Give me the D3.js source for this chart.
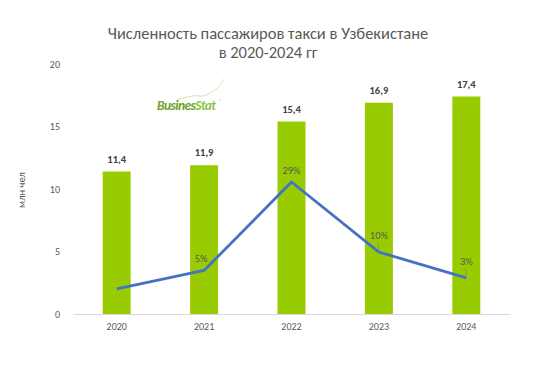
<!DOCTYPE html>
<html>
<head>
<meta charset="utf-8">
<script src="https://cdn.jsdelivr.net/npm/d3@7"></script>
<style>
    body { margin: 0; background: #fff; }
    text { font-family: Carlito, Calibri, "Open Sans", sans-serif; }
</style>
</head>
<body>
<div id="plot"></div>
<script>
let years = ['2020', '2021', '2022', '2023', '2024'];
let passengers = [11.4, 11.9, 15.4, 16.9, 17.4];
let growth = [0, 5, 29, 10, 3];
let growthLabels = ['', '5%', '29%', '10%', '3%'];
let yTicks = [0, 5, 10, 15, 20];

let svgWidth = 539;
let svgHeight = 366;

let margin = { top: 64, right: 29, bottom: 52, left: 73 };
let chartWidth = svgWidth - margin.left - margin.right;
let chartHeight = svgHeight - margin.top - margin.bottom;

let $svg = d3.select('#plot')
    .append('svg')
    .attr('width', svgWidth)
    .attr('height', svgHeight);

// Title
$svg.append('text')
    .attr('x', 268).attr('y', 39)
    .attr('text-anchor', 'middle')
    .attr('font-size', 16.5)
    .attr('fill', '#595959')
    .text('Численность пассажиров такси в Узбекистане');
$svg.append('text')
    .attr('x', 268).attr('y', 58)
    .attr('text-anchor', 'middle')
    .attr('font-size', 16.5)
    .attr('fill', '#595959')
    .text('в 2020-2024 гг');

let chartGroup = $svg.append('g')
    .attr('transform', `translate(${margin.left}, ${margin.top})`);

let xScale = d3.scaleBand()
    .domain(years)
    .range([0, chartWidth])
    .paddingInner(0.68)
    .paddingOuter(0.34);

let yScale = d3.scaleLinear()
    .domain([0, 20])
    .range([chartHeight, 0]);

// hidden secondary axis for growth
let y2Scale = d3.scaleLinear()
    .domain([-6.8, 61])
    .range([chartHeight, 0]);

// y-axis labels (no line)
chartGroup.selectAll('.ytick')
    .data(yTicks)
    .enter()
    .append('text')
    .attr('class', 'ytick')
    .attr('x', -13)
    .attr('y', d => yScale(d))
    .attr('dy', '0.35em')
    .attr('text-anchor', 'end')
    .attr('font-size', 10)
    .attr('fill', '#595959')
    .text(d => d);

// bars
chartGroup.selectAll('rect')
    .data(passengers)
    .enter()
    .append('rect')
    .attr('x', (d, i) => xScale(years[i]))
    .attr('y', d => yScale(d))
    .attr('width', xScale.bandwidth())
    .attr('height', d => chartHeight - yScale(d))
    .attr('fill', '#99CC00');

// bar labels
chartGroup.selectAll('.barlabel')
    .data(passengers)
    .enter()
    .append('text')
    .attr('class', 'barlabel')
    .attr('x', (d, i) => xScale(years[i]) + xScale.bandwidth() / 2)
    .attr('y', d => yScale(d) - 9)
    .attr('text-anchor', 'middle')
    .attr('font-size', 10.5)
    .attr('font-weight', 'bold')
    .attr('fill', '#404040')
    .text(d => d.toFixed(1).replace('.', ','));

// x axis
let bottomAxis = d3.axisBottom(xScale).tickSize(0).tickPadding(9);
let xAxis = chartGroup.append('g')
    .attr('transform', `translate(0, ${chartHeight})`)
    .call(bottomAxis);
xAxis.select('.domain').attr('stroke', '#d9d9d9');
xAxis.selectAll('text')
    .attr('font-size', 10)
    .attr('fill', '#595959')
    .style('font-family', 'Carlito, Calibri, "Open Sans", sans-serif');

// growth line
let line = d3.line()
    .x((d, i) => xScale(years[i]) + xScale.bandwidth() / 2)
    .y(d => y2Scale(d));

chartGroup.append('path')
    .datum(growth)
    .attr('d', line)
    .attr('fill', 'none')
    .attr('stroke', '#4472C4')
    .attr('stroke-width', 2.8)
    .attr('stroke-linejoin', 'round');

// leader lines for labels
chartGroup.selectAll('.leader')
    .data(growth)
    .enter()
    .filter((d, i) => i >= 3)
    .append('line')
    .attr('class', 'leader')
    .attr('x1', (d, i) => xScale(years[i + 3]) + xScale.bandwidth() / 2)
    .attr('x2', (d, i) => xScale(years[i + 3]) + xScale.bandwidth() / 2 - 1)
    .attr('y1', d => y2Scale(d) - 2)
    .attr('y2', d => y2Scale(d) - 10)
    .attr('stroke', '#7f7f7f')
    .attr('stroke-width', 0.6);

chartGroup.selectAll('.growthlabel')
    .data(growth)
    .enter()
    .append('text')
    .attr('class', 'growthlabel')
    .attr('x', (d, i) => xScale(years[i]) + xScale.bandwidth() / 2 + (i === 1 ? -3 : 0))
    .attr('y', (d, i) => y2Scale(d) - (i >= 3 ? 13 : 8))
    .attr('text-anchor', 'middle')
    .attr('font-size', 10.5)
    .attr('fill', '#595959')
    .text((d, i) => growthLabels[i]);

// y label
$svg.append('text')
    .attr('transform', 'rotate(-90)')
    .attr('x', -190)
    .attr('y', 25)
    .attr('text-anchor', 'middle')
    .attr('font-size', 10.5)
    .attr('fill', '#595959')
    .text('млн чел');

// logo
let logo = $svg.append('g').attr('transform', 'translate(157, 110)');
logo.append('path')
    .attr('d', 'M20,-10 C30,-13 36,-15 42,-14 C48,-13 53,-17 59,-21 C63,-24 65,-27 67,-31')
    .attr('fill', 'none')
    .attr('stroke', '#c5dca0')
    .attr('stroke-width', 0.8);
let logoText = logo.append('text')
    .attr('font-size', 13.5)
    .attr('font-style', 'italic')
    .attr('font-weight', 'bold')
    .attr('letter-spacing', -0.6);
logoText.append('tspan').attr('fill', '#6aa32b').text('Busines');
logoText.append('tspan').attr('fill', '#8cc63f').text('Stat');
logo.append('text')
    .attr('x', 62).attr('y', -7)
    .attr('font-size', 5)
    .attr('fill', '#8cc63f')
    .text('®');
</script>
</body>
</html>
